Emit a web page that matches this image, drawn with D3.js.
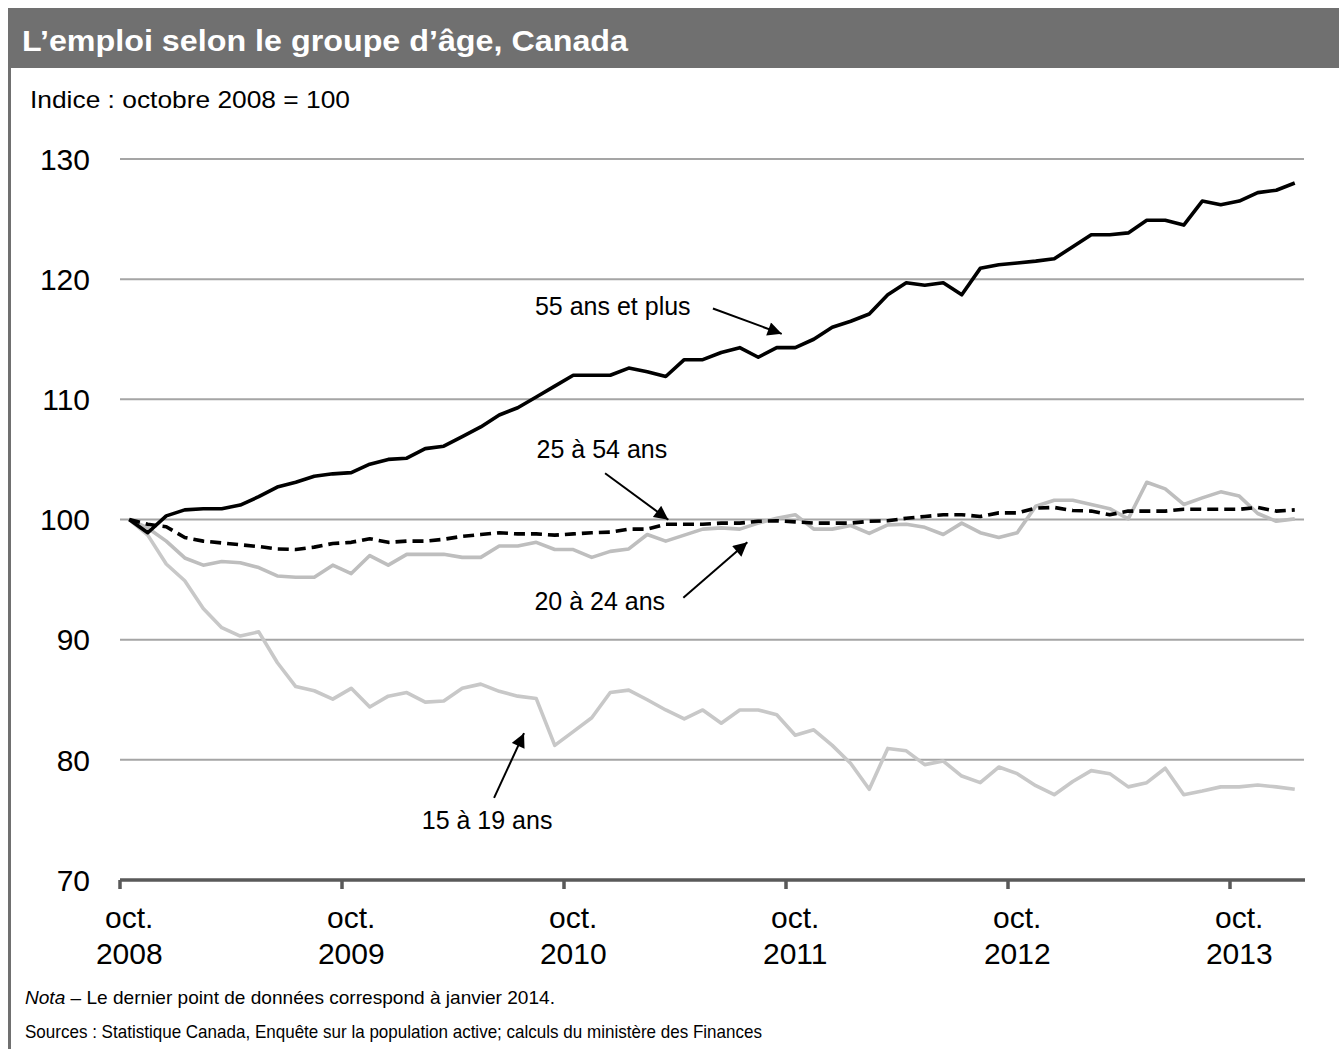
<!DOCTYPE html>
<html><head><meta charset="utf-8">
<script src="https://cdn.jsdelivr.net/npm/d3@7"></script>
<style>
html,body{margin:0;padding:0;background:#fff;}
svg{display:block;font-family:"Liberation Sans",Arial,Helvetica,sans-serif;}
</style></head>
<body>
<script>
// ---- data ----
const months = [
 "oct. 2008","nov. 2008","déc. 2008","janv. 2009","févr. 2009","mars 2009","avr. 2009","mai 2009","juin 2009","juil. 2009","août 2009","sept. 2009",
 "oct. 2009","nov. 2009","déc. 2009","janv. 2010","févr. 2010","mars 2010","avr. 2010","mai 2010","juin 2010","juil. 2010","août 2010","sept. 2010",
 "oct. 2010","nov. 2010","déc. 2010","janv. 2011","févr. 2011","mars 2011","avr. 2011","mai 2011","juin 2011","juil. 2011","août 2011","sept. 2011",
 "oct. 2011","nov. 2011","déc. 2011","janv. 2012","févr. 2012","mars 2012","avr. 2012","mai 2012","juin 2012","juil. 2012","août 2012","sept. 2012",
 "oct. 2012","nov. 2012","déc. 2012","janv. 2013","févr. 2013","mars 2013","avr. 2013","mai 2013","juin 2013","juil. 2013","août 2013","sept. 2013",
 "oct. 2013","nov. 2013","déc. 2013","janv. 2014"];

const age55plus = [100, 98.9, 100.3, 100.8, 100.9, 100.9, 101.2, 101.9, 102.7, 103.1,
 103.6, 103.8, 103.9, 104.6, 105.0, 105.1, 105.9, 106.1, 106.9, 107.7,
 108.7, 109.3, 110.2, 111.1, 112.0, 112.0, 112.0, 112.6, 112.3, 111.9,
 113.3, 113.3, 113.9, 114.3, 113.5, 114.3, 114.3, 115.0, 116.0, 116.5,
 117.1, 118.7, 119.7, 119.5, 119.7, 118.7, 120.9, 121.2, 121.35, 121.5,
 121.7, 122.7, 123.7, 123.7, 123.85, 124.9, 124.9, 124.5, 126.5, 126.2,
 126.5, 127.2, 127.4, 128.0];

const age25to54 = [100, 99.6, 99.4, 98.5, 98.2, 98.05, 97.9, 97.75, 97.55, 97.5,
 97.7, 98.0, 98.1, 98.4, 98.1, 98.2, 98.2, 98.35, 98.6, 98.75,
 98.9, 98.8, 98.8, 98.7, 98.8, 98.9, 98.95, 99.2, 99.2, 99.6,
 99.6, 99.6, 99.7, 99.7, 99.85, 99.9, 99.8, 99.7, 99.7, 99.7,
 99.85, 99.9, 100.1, 100.25, 100.4, 100.4, 100.25, 100.55, 100.55, 100.95,
 101.0, 100.75, 100.7, 100.4, 100.7, 100.7, 100.7, 100.85, 100.85, 100.85,
 100.85, 101.0, 100.7, 100.8];

const age20to24 = [100, 99.3, 98.2, 96.8, 96.2, 96.5, 96.4, 96.0, 95.3, 95.2,
 95.2, 96.2, 95.5, 97.0, 96.2, 97.1, 97.1, 97.1, 96.85, 96.85,
 97.8, 97.8, 98.1, 97.5, 97.5, 96.85, 97.35, 97.55, 98.75, 98.2,
 98.7, 99.2, 99.3, 99.2, 99.7, 100.1, 100.4, 99.2, 99.2, 99.5,
 98.85, 99.55, 99.6, 99.35, 98.75, 99.7, 98.9, 98.5, 98.9, 101.1,
 101.6, 101.6, 101.25, 100.9, 100.05, 103.1, 102.55, 101.25, 101.8, 102.3,
 101.95, 100.5, 99.85, 100.05];

const age15to19 = [100, 98.7, 96.3, 94.9, 92.6, 91.0, 90.3, 90.65, 88.1, 86.1,
 85.75, 85.05, 85.95, 84.4, 85.3, 85.6, 84.8, 84.9, 85.95, 86.3,
 85.7, 85.3, 85.1, 81.2, 82.35, 83.5, 85.6, 85.8, 85.0, 84.15,
 83.4, 84.15, 83.05, 84.15, 84.15, 83.75, 82.05, 82.5, 81.2, 79.7,
 77.55, 80.95, 80.75, 79.6, 79.9, 78.65, 78.1, 79.4, 78.85, 77.85,
 77.1, 78.2, 79.1, 78.85, 77.75, 78.1, 79.3, 77.1, 77.4, 77.75,
 77.75, 77.9, 77.75, 77.55];

const yTicks = [70, 80, 90, 100, 110, 120, 130];
const xTickMonths = ["oct. 2008","oct. 2009","oct. 2010","oct. 2011","oct. 2012","oct. 2013"];

const seriesNames = ["55 ans et plus", "25 à 54 ans", "20 à 24 ans", "15 à 19 ans"];
// annotation anchors in data space: [month index, value]
const labelAt  = [[21.93,116.98],[22.02,105.08],[21.9,92.51],[15.81,74.26]];
const arrowFrom = [[31.55,117.56],[25.72,103.85],[29.95,93.48],[19.72,76.84]];
const arrowTo   = [[35.27,115.45],[29.14,99.98],[33.41,98.11],[21.34,82.22]];

const titleText = "L’emploi selon le groupe d’âge, Canada";
const unitText = "Indice : octobre 2008 = 100";
const noteText = " – Le dernier point de données correspond à janvier 2014.";
const sourceText = "Sources : Statistique Canada, Enquête sur la population active; calculs du ministère des Finances";

// ---- drawing ----
const W = 1339, H = 1049;
const svg = d3.select("body").append("svg").attr("width", W).attr("height", H);
svg.append("rect").attr("width", W).attr("height", H).attr("fill", "#fff");

const defs = svg.append("defs");
defs.append("marker").attr("id","ah").attr("viewBox","0 0 10 10").attr("refX",10).attr("refY",5)
  .attr("markerWidth",8).attr("markerHeight",7).attr("markerUnits","strokeWidth").attr("orient","auto")
  .append("path").attr("d","M0,0 L10,5 L0,10 z").attr("fill","#000");

// frame
svg.append("rect").attr("x",8).attr("y",8).attr("width",W-8).attr("height",60).attr("fill","#707070");
svg.append("line").attr("x1",9.5).attr("x2",9.5).attr("y1",8).attr("y2",H).attr("stroke","#707070").attr("stroke-width",3);
svg.append("text").attr("x",22).attr("y",51).attr("fill","#fff").attr("font-weight","bold")
  .attr("font-size",30).attr("textLength",606).attr("lengthAdjust","spacingAndGlyphs").text(titleText);
svg.append("text").attr("x",30).attr("y",108).attr("fill","#000").attr("font-size",24)
  .attr("textLength",320).attr("lengthAdjust","spacingAndGlyphs").text(unitText);

const x = d3.scaleBand().domain(months).range([120, 1304]).padding(0);
const cx = m => x(m) + x.bandwidth()/2;
const xi = i => x(months[0]) + x.bandwidth()*(i + 0.5);
const y = d3.scaleLinear().domain([70,130]).range([880,159]);

// grid
svg.append("g").selectAll("line").data(yTicks.filter(v => v > 70)).join("line")
  .attr("x1",120).attr("x2",1304).attr("y1",d=>y(d)).attr("y2",d=>y(d))
  .attr("stroke","#a5a5a5").attr("stroke-width",2);

// y labels
svg.append("g").selectAll("text").data(yTicks).join("text")
  .attr("x",90).attr("y",d=>y(d)).attr("dy","0.36em").attr("text-anchor","end")
  .attr("font-size",30).attr("fill","#000").text(d=>d);

// x axis
const ax = svg.append("g");
ax.append("line").attr("x1",120).attr("x2",1305).attr("y1",y(70)).attr("y2",y(70))
  .attr("stroke","#595959").attr("stroke-width",3.5);
ax.selectAll("line.t").data(xTickMonths).join("line").attr("class","t")
  .attr("x1",d=>x(d)).attr("x2",d=>x(d)).attr("y1",y(70)).attr("y2",y(70)+9)
  .attr("stroke","#595959").attr("stroke-width",3.5);
const xl = ax.selectAll("text").data(xTickMonths).join("text")
  .attr("text-anchor","middle").attr("font-size",30).attr("fill","#000");
xl.append("tspan").attr("x",d=>cx(d)).attr("y",928).text(d=>d.split(" ")[0]);
xl.append("tspan").attr("x",d=>cx(d)).attr("y",964).text(d=>d.split(" ")[1]);

// lines
const line = d3.line().x((d,i)=>cx(months[i])).y(d=>y(d));
const seriesDefs = [
  {data: age15to19, color:"#c8c8c8", dash:null},
  {data: age20to24, color:"#bebebe", dash:null},
  {data: age25to54, color:"#000", dash:"11,6"},
  {data: age55plus, color:"#000", dash:null}
];
svg.append("g").selectAll("path").data(seriesDefs).join("path")
  .attr("d", d=>line(d.data)).attr("fill","none").attr("stroke",d=>d.color)
  .attr("stroke-width",3.6).attr("stroke-linejoin","round")
  .attr("stroke-dasharray",d=>d.dash);

// annotations
const ann = svg.append("g");
ann.selectAll("text").data(seriesNames).join("text")
  .attr("x",(d,i)=>xi(labelAt[i][0])).attr("y",(d,i)=>y(labelAt[i][1]))
  .attr("font-size",25).attr("fill","#000").text(d=>d);
ann.selectAll("line").data(seriesNames).join("line")
  .attr("x1",(d,i)=>xi(arrowFrom[i][0])).attr("y1",(d,i)=>y(arrowFrom[i][1]))
  .attr("x2",(d,i)=>xi(arrowTo[i][0])).attr("y2",(d,i)=>y(arrowTo[i][1]))
  .attr("stroke","#000").attr("stroke-width",2).attr("marker-end","url(#ah)");

// notes
const nt = svg.append("text").attr("x",25).attr("y",1004).attr("font-size",19).attr("fill","#000")
  .attr("textLength",530).attr("lengthAdjust","spacingAndGlyphs");
nt.append("tspan").attr("font-style","italic").text("Nota");
nt.append("tspan").text(noteText);
svg.append("text").attr("x",25).attr("y",1038).attr("font-size",19).attr("fill","#000")
  .attr("textLength",737).attr("lengthAdjust","spacingAndGlyphs").text(sourceText);
</script>
</body></html>
